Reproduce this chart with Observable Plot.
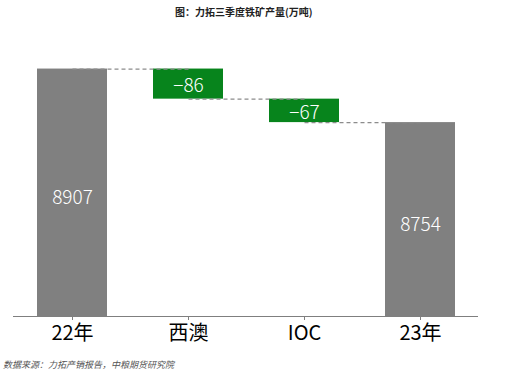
<!DOCTYPE html>
<html><head><meta charset="utf-8">
<script src="https://cdn.jsdelivr.net/npm/d3@7"></script>
<script src="https://cdn.jsdelivr.net/npm/@observablehq/plot@0.6"></script>
<style>
body{margin:0;background:#fff;width:506px;height:376px;overflow:hidden;font-family:"Noto Sans CJK SC",sans-serif;}
#title{height:24px;line-height:24px;padding-left:175px;font-size:10px;font-weight:bold;color:#222;white-space:nowrap;}
#chart{height:330px;}
#caption{height:22px;line-height:22px;padding-left:3px;font-size:9px;font-style:italic;color:#555;white-space:nowrap;}
</style></head><body>
<div id="title">图：力拓三季度铁矿产量(万吨)</div>
<div id="chart"></div>
<div id="caption">数据来源：力拓产销报告，中粮期货研究院</div>
<script>
const categories = ["22年", "西澳", "IOC", "23年"];
const values = [8907, -86, -67, 8754];
const kinds = ["total", "delta", "delta", "total"];
const yDomain = [8200, 9000];

// build waterfall rows
let running = 0;
const rows = categories.map((c, i) => {
  let y1, y2;
  if (kinds[i] === "total") { y1 = yDomain[0]; y2 = values[i]; running = values[i]; }
  else { y1 = running; y2 = running + values[i]; running = y2; }
  return {cat: c, value: values[i], kind: kinds[i], y1, y2, end: running};
});
const links = rows.slice(0, -1).map((r, i) => ({from: r.cat, to: rows[i + 1].cat, level: r.end}));
const totals = rows.filter(d => d.kind === "total");
const deltas = rows.filter(d => d.kind === "delta");

const fmt = v => String(v).replace("-", "−");

const chart = Plot.plot({
  width: 506,
  height: 330,
  marginTop: 12,
  marginBottom: 38,
  marginLeft: 13,
  marginRight: 28,
  style: {fontFamily: "'Noto Sans CJK SC', sans-serif", background: "white", overflow: "visible"},
  x: {domain: categories, paddingInner: 0.4, paddingOuter: 0.2, label: null},
  y: {domain: yDomain, axis: null},
  marks: [
    Plot.barY(rows, {x: "cat", y1: "y1", y2: "y2", fill: d => d.kind === "total" ? "#808080" : "#07841c"}),
    Plot.link(links, {x1: "from", x2: "to", y1: "level", y2: "level", stroke: "#8c8c8c", strokeWidth: 1.3, strokeDasharray: "4,3"}),
    Plot.text(totals, {x: "cat", y: d => (d.y1 + d.y2) / 2, text: d => fmt(d.value), fill: "white", fontSize: 19, fontWeight: 300, dy: 5}),
    Plot.text(deltas, {x: "cat", y: d => (d.y1 + d.y2) / 2, text: d => fmt(d.value), fill: "white", fontSize: 19, fontWeight: 300, dy: 2}),
    Plot.ruleY([yDomain[0]], {stroke: "#7f7f7f", strokeWidth: 1}),
    Plot.axisX({tickSize: 4, tickPadding: 5, fontSize: 20, color: "#000", stroke: "#7f7f7f", label: null})
  ]
});
document.getElementById("chart").appendChild(chart);
</script>
</body></html>
